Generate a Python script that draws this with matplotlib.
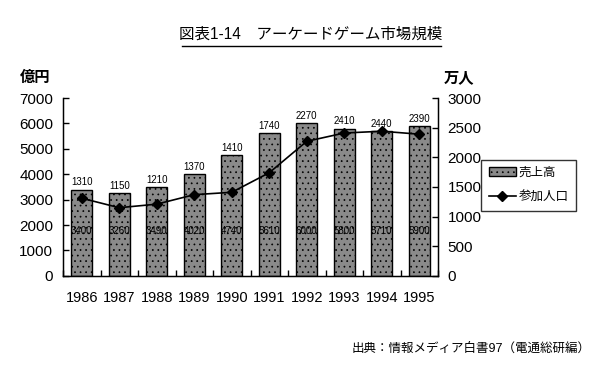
import matplotlib
matplotlib.use("Agg")
import matplotlib.pyplot as plt
import numpy as np

plt.rcParams['font.family'] = ['Liberation Sans', 'Noto Sans CJK JP', 'DejaVu Sans']
plt.rcParams['hatch.color'] = '#a8a8a8'
plt.rcParams['hatch.linewidth'] = 0.5

years = ['1986', '1987', '1988', '1989', '1990', '1991', '1992', '1993', '1994', '1995']
sales = [3400, 3260, 3490, 4020, 4740, 5610, 6000, 5800, 5710, 5900]
players = [1310, 1150, 1210, 1370, 1410, 1740, 2270, 2410, 2440, 2390]

fig = plt.figure(figsize=(6, 3.8), dpi=100)
ax = fig.add_axes([0.105, 0.274, 0.625, 0.468])
ax2 = ax.twinx()

x = np.arange(len(years))
bars = ax.bar(x, sales, width=0.57, color='#8a8a8a', edgecolor='black', linewidth=1.0,
              hatch='...', label='売上高', zorder=2)
ax.set_ylim(0, 7000)
ax.set_yticks(range(0, 7001, 1000))
ax.set_xlim(-0.5, len(years) - 0.5)
ax.set_xticks(x)
ax.set_xticklabels(years, fontsize=10.5)
ax.set_xticks(np.arange(-0.5, len(years)), minor=True)
ax.tick_params(axis='x', which='major', length=0, pad=11)
ax.tick_params(axis='x', which='minor', direction='in', length=4, width=1)
ax.tick_params(axis='y', direction='in', length=4, width=1, labelsize=11, pad=7)
ax.spines['top'].set_visible(False)
for s in ax.spines.values():
    s.set_linewidth(1.0)

ax2.set_ylim(0, 3000)
ax2.set_yticks(range(0, 3001, 500))
ax2.tick_params(axis='y', direction='in', length=4, width=1, labelsize=11, pad=7)
ax2.spines['top'].set_visible(False)
line, = ax2.plot(x, players, color='black', linewidth=1.2, marker='D', markersize=5,
                 label='参加人口', zorder=3)

for xi, s, p in zip(x, sales, players):
    ax.text(xi, s + 80, str(p), ha='center', va='bottom', fontsize=7)
    ax.text(xi, 1770, str(s), ha='center', va='center', fontsize=7)

fig.text(0.033, 0.795, '億円', fontsize=11, ha='left', va='center', fontweight='bold')
fig.text(0.740, 0.795, '万人', fontsize=11, ha='left', va='center', fontweight='bold')

fig.text(0.518, 0.91, '図表1-14　アーケードゲーム市場規模', fontsize=11.2, ha='center', va='center')
fig.add_artist(plt.Line2D([0.303, 0.735], [0.878, 0.878], transform=fig.transFigure,
                          color='black', linewidth=1.0))

fig.legend(handles=[bars, line], labels=['売上高', '参加人口'], loc='upper left',
           bbox_to_anchor=(0.802, 0.580), frameon=True, fancybox=False, edgecolor='black',
           fontsize=9, handlelength=2.2, handletextpad=0.2, borderpad=0.6, labelspacing=1.0,
           borderaxespad=0)

fig.text(0.985, 0.082, '出典：情報メディア白書97（電通総研編）', fontsize=9, ha='right', va='center')

fig.savefig('out.png', dpi=100, facecolor='white')
